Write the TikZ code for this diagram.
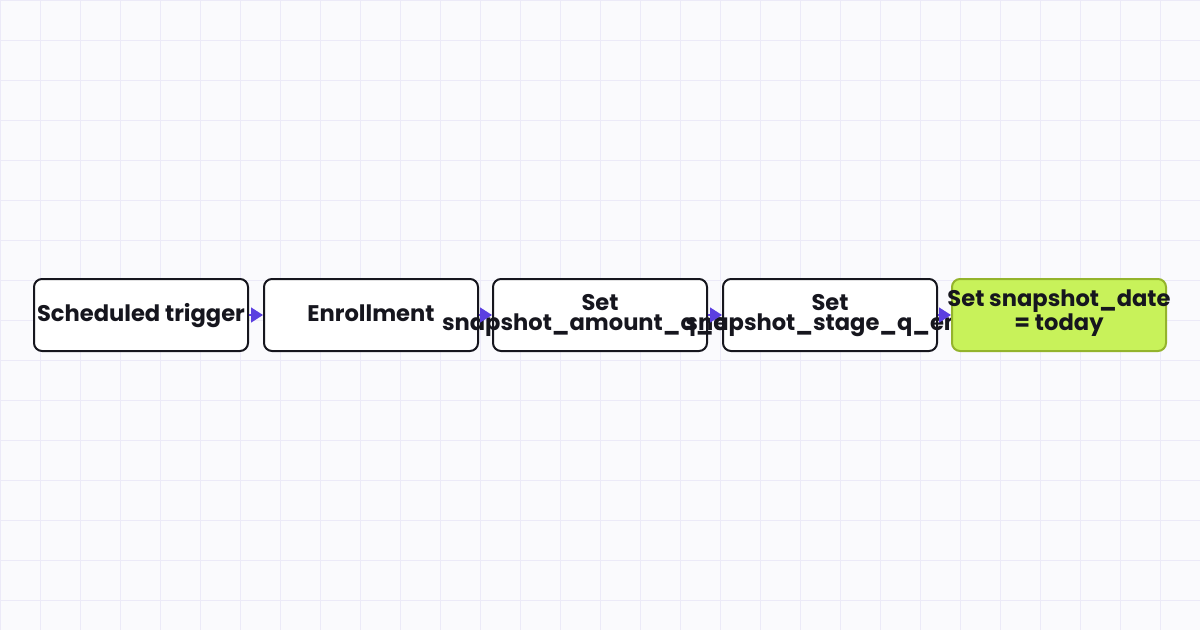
\documentclass[tikz,border=0pt]{standalone}
\usepackage{fontspec}
\newfontfamily\labfont{Poppins}
\usetikzlibrary{arrows.meta}
\definecolor{bgc}{HTML}{FAFAFD}
\definecolor{gridc}{HTML}{ECEAF8}
\definecolor{inkc}{HTML}{16161E}
\definecolor{greenf}{HTML}{C8F25A}
\definecolor{greend}{HTML}{94B42C}
\definecolor{arrowc}{HTML}{5B3FE0}
\tikzset{
  box/.style={draw=inkc, line width=2pt, fill=white, rounded corners=8pt,
    minimum width=214pt, minimum height=72pt, inner sep=0pt},
  donebox/.style={box, draw=greend, fill=greenf},
  lab/.style={text=inkc, font=\labfont\bfseries\fontsize{22.6}{20}\selectfont,
    align=center, inner sep=0pt, anchor=base},
  flow/.style={draw=arrowc, line width=1.5pt, -{Triangle[length=12pt,width=15pt]}, shorten >=0pt}
}
\begin{document}
\begin{tikzpicture}[x=1pt,y=-1pt]
\fill[bgc] (0,0) rectangle (1200,630);
\useasboundingbox (0,0) rectangle (1200,630);
\foreach \gx in {0,40,...,1200} \draw[gridc, line width=1pt] (\gx,0) -- (\gx,630);
\foreach \gy in {0,40,...,620} \draw[gridc, line width=1pt] (0,\gy) -- (1200,\gy);
\node[box] (b1) at (141,315) {};
\node[lab] (t1) at (141,321) {Scheduled trigger};
\node[box] (b2) at (371,315) {};
\node[lab] (t2) at (371,321) {Enrollment};
\node[box] (b3) at (600,315) {};
\node[lab] (t3) at (600,330) {Set\\snapshot\_amount\_q\_end};
\node[box] (b4) at (830,315) {};
\node[lab] (t4) at (830,330) {Set\\snapshot\_stage\_q\_end};
\node[donebox] (b5) at (1059,315) {};
\node[lab] (t5) at (1059,330) {Set snapshot\_date\\= today};
\draw[flow] (b1.east) -- (b2.west);
\draw[flow] (b2.east) -- (b3.west);
\draw[flow] (b3.east) -- (b4.west);
\draw[flow] (b4.east) -- (b5.west);
\end{tikzpicture}
\end{document}
